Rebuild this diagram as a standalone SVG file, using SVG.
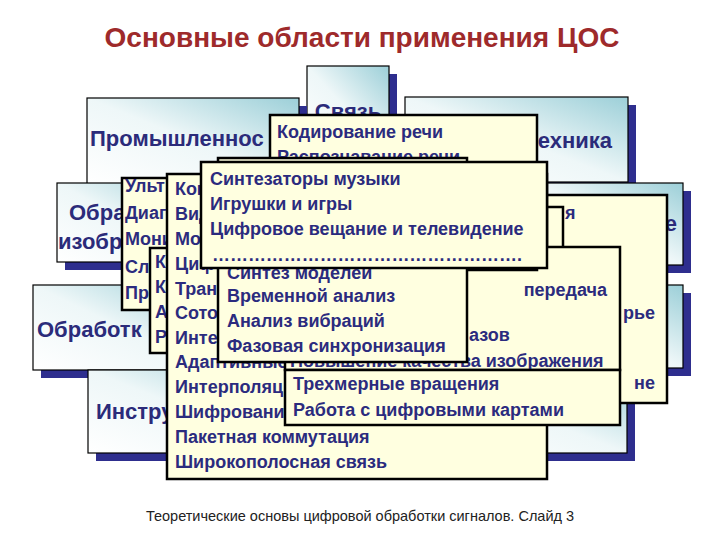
<svg xmlns="http://www.w3.org/2000/svg" width="720" height="540" viewBox="0 0 720 540">
<defs>
<linearGradient id="bg" x1="0" y1="1" x2="1" y2="0">
<stop offset="0" stop-color="#ffffff"/>
<stop offset="0.5" stop-color="#eef7f8"/>
<stop offset="1" stop-color="#9ccfd8"/>
</linearGradient>
</defs>
<style>
.sh{fill:#2e2e8e}
.bb{fill:url(#bg);stroke:#000;stroke-width:1.2}
.bl{font-family:"Liberation Sans",Arial,sans-serif;font-weight:bold;font-size:22px;fill:#2b2b7a}
.cb{fill:#ffffe0;stroke:#000;stroke-width:2.5}
.ct{font-family:"Liberation Sans",Arial,sans-serif;font-weight:bold;font-size:18px;fill:#2b2b7e}
.ce{text-anchor:end}
</style>
<rect width="720" height="540" fill="#fff"/>
<text x="362" y="47" font-family="Liberation Sans,Arial,sans-serif" font-weight="bold" font-size="28" fill="#9e2a2b" text-anchor="middle">Основные области применения ЦОС</text>
<text x="360" y="521" font-family="Liberation Sans,Arial,sans-serif" font-size="14.5" fill="#222" text-anchor="middle">Теоретические основы цифровой обработки сигналов.  Слайд 3</text>

<g id="area-svyaz"><rect class="sh" x="315" y="74" width="82" height="90"/><rect class="bb" x="307" y="66" width="82" height="90"/><text class="bl" x="348" y="119" text-anchor="middle">Связь</text></g>
<g id="area-prom"><rect class="sh" x="95" y="106" width="212" height="86"/><rect class="bb" x="87" y="98" width="212" height="86"/><text class="bl" x="90" y="146">Промышленнос</text></g>
<g id="area-byt"><rect class="sh" x="413" y="105" width="223" height="85"/><rect class="bb" x="405" y="97" width="223" height="85"/><text class="bl ce" x="612" y="148">Бытовая техника</text></g>
<g id="area-r1"><rect class="sh" x="548" y="191" width="143" height="82"/><rect class="bb" x="540" y="183" width="143" height="82"/><text class="bl ce" x="677" y="231">е</text></g>
<g id="area-r2"><rect class="sh" x="528" y="293" width="163" height="83"/><rect class="bb" x="520" y="285" width="163" height="83"/></g>
<g id="area-r3"><rect class="sh" x="428" y="380" width="207" height="81"/><rect class="bb" x="420" y="372" width="207" height="81"/></g>
<g id="area-img"><rect class="sh" x="65" y="191" width="146" height="79"/><rect class="bb" x="57" y="183" width="146" height="79"/><text class="bl" x="69" y="220">Обра</text><text class="bl" x="58" y="249">изобр</text></g>
<g id="area-speech"><rect class="sh" x="41" y="293" width="176" height="85"/><rect class="bb" x="33" y="285" width="176" height="85"/><text class="bl" x="37" y="337">Обработк</text></g>
<g id="area-instr"><rect class="sh" x="96" y="378" width="210" height="83"/><rect class="bb" x="88" y="370" width="210" height="83"/><text class="bl" x="96" y="419">Инстру</text></g>

<g id="list-general"><rect class="cb" x="300" y="195" width="367" height="208"/>
<text class="ct" x="565" y="219">я</text>
<text class="ct ce" x="655" y="319">рье</text>
<text class="ct ce" x="655" y="389">не</text></g>
<g id="list-q"><rect class="cb" x="300" y="207" width="263" height="60"/></g>
<g id="list-med"><rect class="cb" x="122" y="178" width="120" height="132"/>
<text class="ct" x="125" y="192">Ульт</text><text class="ct" x="125" y="219">Диаг</text><text class="ct" x="125" y="245">Мони</text><text class="ct" x="125" y="273">Сл</text><text class="ct" x="125" y="299">Пр</text></g>
<g id="list-k"><rect class="cb" x="150" y="248" width="80" height="105"/>
<text class="ct" x="155" y="268">К</text><text class="ct" x="155" y="293">К</text><text class="ct" x="155" y="318">А</text><text class="ct" x="155" y="343">Р</text></g>
<g id="list-svyaz"><rect class="cb" x="167" y="174" width="380" height="305"/>
<text class="ct" x="175" y="195">Ком</text><text class="ct" x="175" y="220">Вид</text><text class="ct" x="175" y="245">Мод</text><text class="ct" x="175" y="270">Циф</text><text class="ct" x="175" y="295">Тран</text><text class="ct" x="175" y="319">Сото</text><text class="ct" x="175" y="344">Инте</text><text class="ct" x="175" y="368">Адаптивные</text><text class="ct" x="175" y="393">Интерполяц</text><text class="ct" x="175" y="418">Шифровани</text><text class="ct" x="175" y="443">Пакетная коммутация</text><text class="ct" x="175" y="468">Широкополосная связь</text></g>
<g id="list-img"><rect class="cb" x="285" y="247" width="335" height="123"/>
<text class="ct ce" x="607" y="296">передача</text><text class="ct" x="469" y="341">азов</text><text class="ct" x="290" y="367">Повышение качества изображения</text></g>
<g id="list-speech"><rect class="cb" x="270" y="115" width="267" height="155"/>
<text class="ct" x="277" y="138">Кодирование речи</text><text class="ct" x="277" y="163">Распознавание речи</text></g>
<g id="list-instr"><rect class="cb" x="218" y="158" width="249" height="204"/>
<text class="ct" x="227" y="279">Синтез моделей</text><text class="ct" x="227" y="302">Временной анализ</text><text class="ct" x="227" y="327">Анализ вибраций</text><text class="ct" x="227" y="352">Фазовая синхронизация</text></g>
<g id="list-consumer"><rect class="cb" x="201" y="162" width="346" height="106"/>
<text class="ct" x="210" y="185">Синтезаторы музыки</text><text class="ct" x="210" y="210">Игрушки и игры</text><text class="ct" x="210" y="235">Цифровое вещание и телевидение</text><text class="ct" x="212" y="261" textLength="310" lengthAdjust="spacing">…………………………………………….</text></g>
<g id="list-img2"><rect class="cb" x="285" y="370" width="335" height="55"/>
<text class="ct" x="293" y="390">Трехмерные вращения</text><text class="ct" x="293" y="416">Работа с цифровыми картами</text></g>
</svg>
